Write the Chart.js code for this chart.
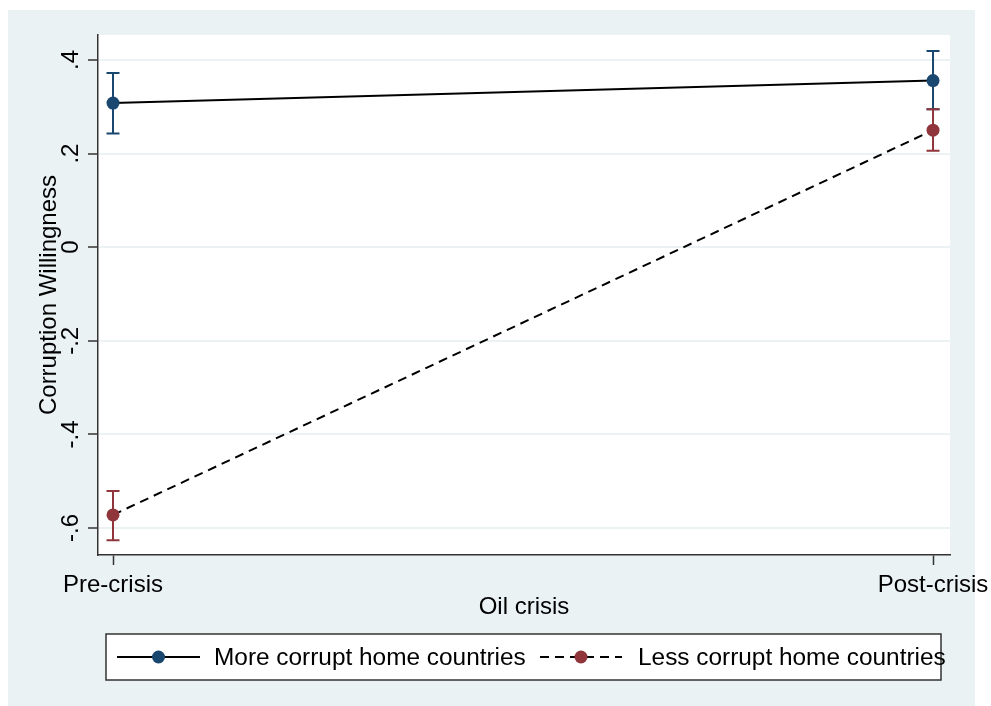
<!DOCTYPE html>
<html>
<head>
<meta charset="utf-8">
<script src="https://cdn.jsdelivr.net/npm/chart.js@4"></script>
<style>
  html, body { margin: 0; padding: 0; background: #fff; }
  #wrap { width: 991px; height: 706px; }
</style>
</head>
<body>
<div id="wrap"><canvas id="ctx" width="991" height="706"></canvas></div>
<script>
const periods = ['Pre-crisis', 'Post-crisis'];
const periodX = [0, 1];
const yTicks = [-0.6, -0.4, -0.2, 0, 0.2, 0.4];
const yTickLabels = ['-.6', '-.4', '-.2', '0', '.2', '.4'];

const moreCorrupt = [0.308, 0.356];
const moreLow = [0.243, 0.295];
const moreHigh = [0.372, 0.419];

const lessCorrupt = [-0.572, 0.250];
const lessLow = [-0.626, 0.206];
const lessHigh = [-0.521, 0.295];

const navy = '#1a476f';
const maroon = '#90353b';
const bgBlue = '#eaf2f3';
const fontFam = '"Liberation Sans", Arial, sans-serif';

const pts = (vals) => vals.map((v, i) => ({x: periodX[i], y: v}));

// backgrounds: white margin, light outer region, white plot area
const bgPlugin = {
    id: 'bg',
    beforeDraw(chart) {
        const c = chart.ctx, a = chart.chartArea;
        c.save();
        c.fillStyle = '#fff';
        c.fillRect(0, 0, chart.width, chart.height);
        c.fillStyle = bgBlue;
        c.fillRect(8, 10, 967, 696);
        c.fillStyle = '#fff';
        c.fillRect(a.left, a.top, a.right - a.left, a.bottom - a.top);
        c.restore();
    }
};

// capped error bars from the low/high arrays
const errPlugin = {
    id: 'errbars',
    beforeDatasetsDraw(chart) {
        const c = chart.ctx;
        const xs = chart.scales.x, ys = chart.scales.y;
        chart.data.datasets.forEach(ds => {
            c.save();
            c.strokeStyle = ds.pointBackgroundColor;
            c.lineWidth = 2;
            ds.low.forEach((lo, i) => {
                const px = xs.getPixelForValue(periodX[i]);
                const y1 = ys.getPixelForValue(lo), y2 = ys.getPixelForValue(ds.high[i]);
                c.beginPath();
                c.moveTo(px, y1); c.lineTo(px, y2);
                c.moveTo(px - 6.5, y1); c.lineTo(px + 6.5, y1);
                c.moveTo(px - 6.5, y2); c.lineTo(px + 6.5, y2);
                c.stroke();
            });
            c.restore();
        });
    }
};

// stata style boxed legend
const legendPlugin = {
    id: 'boxLegend',
    afterDraw(chart) {
        const c = chart.ctx;
        c.save();
        c.fillStyle = '#fff';
        c.fillRect(106, 634, 835, 46);
        c.strokeStyle = '#333';
        c.lineWidth = 1.5;
        c.strokeRect(106, 634, 835, 46);
        const items = [{x0: 117, x1: 200, tx: 214}, {x0: 540, x1: 622, tx: 638}];
        const ly = 657;
        chart.data.datasets.forEach((ds, i) => {
            const it = items[i];
            c.strokeStyle = '#000';
            c.lineWidth = 2;
            c.setLineDash(ds.borderDash || []);
            c.beginPath();
            c.moveTo(it.x0, ly); c.lineTo(it.x1, ly);
            c.stroke();
            c.setLineDash([]);
            c.fillStyle = ds.pointBackgroundColor;
            c.beginPath();
            c.arc((it.x0 + it.x1) / 2, ly, 6.5, 0, Math.PI * 2);
            c.fill();
            c.fillStyle = '#000';
            c.font = '24.4px ' + fontFam;
            c.textBaseline = 'middle';
            c.fillText(ds.label, it.tx, ly + 1);
        });
        c.restore();
    }
};

new Chart(document.getElementById('ctx'), {
    type: 'line',
    data: {
        datasets: [{
            label: 'More corrupt home countries',
            data: pts(moreCorrupt),
            low: moreLow,
            high: moreHigh,
            borderColor: '#000',
            borderWidth: 2,
            pointRadius: 6.5,
            pointBackgroundColor: navy,
            pointBorderColor: navy,
            pointBorderWidth: 0
        }, {
            label: 'Less corrupt home countries',
            data: pts(lessCorrupt),
            low: lessLow,
            high: lessHigh,
            borderColor: '#000',
            borderWidth: 2,
            borderDash: [9, 6],
            pointRadius: 6.5,
            pointBackgroundColor: maroon,
            pointBorderColor: maroon,
            pointBorderWidth: 0
        }]
    },
    options: {
        responsive: false,
        animation: false,
        layout: { padding: { left: 35, top: 35, right: 41, bottom: 84 } },
        plugins: { legend: { display: false }, tooltip: { enabled: false } },
        scales: {
            x: {
                type: 'linear',
                min: -0.0183,
                max: 1.0207,
                afterBuildTicks: (s) => { s.ticks = periodX.map(v => ({value: v})); },
                afterFit: (s) => { s.height = 67; s.paddingLeft = 0; s.paddingRight = 0; },
                ticks: {
                    callback: (v) => periods[periodX.indexOf(v)],
                    color: '#000',
                    font: { family: fontFam, size: 24 },
                    padding: 6,
                    maxRotation: 0
                },
                grid: { drawOnChartArea: false, tickLength: 10, tickColor: '#333', tickWidth: 1.5 },
                border: { color: '#333', width: 1.5 },
                title: {
                    display: true,
                    text: 'Oil crisis',
                    color: '#000',
                    font: { family: fontFam, size: 24 },
                    padding: 0
                }
            },
            y: {
                min: -0.6577,
                max: 0.4534,
                afterBuildTicks: (s) => { s.ticks = yTicks.map(v => ({value: v})); },
                afterFit: (s) => { s.width = 63; s.paddingTop = 0; s.paddingBottom = 0; },
                ticks: {
                    callback: (v) => yTickLabels[yTicks.findIndex(t => Math.abs(t - v) < 1e-9)],
                    color: '#000',
                    font: { family: fontFam, size: 24 },
                    minRotation: 90,
                    maxRotation: 90,
                    crossAlign: 'center',
                    padding: 3
                },
                grid: { color: bgBlue, lineWidth: 2, tickLength: 10, tickColor: '#333', tickWidth: 1.5 },
                border: { color: '#333', width: 1.5 },
                title: {
                    display: true,
                    text: 'Corruption Willingness',
                    color: '#000',
                    font: { family: fontFam, size: 24 },
                    padding: 0
                }
            }
        }
    },
    plugins: [bgPlugin, errPlugin, legendPlugin]
});
</script>
</body>
</html>
